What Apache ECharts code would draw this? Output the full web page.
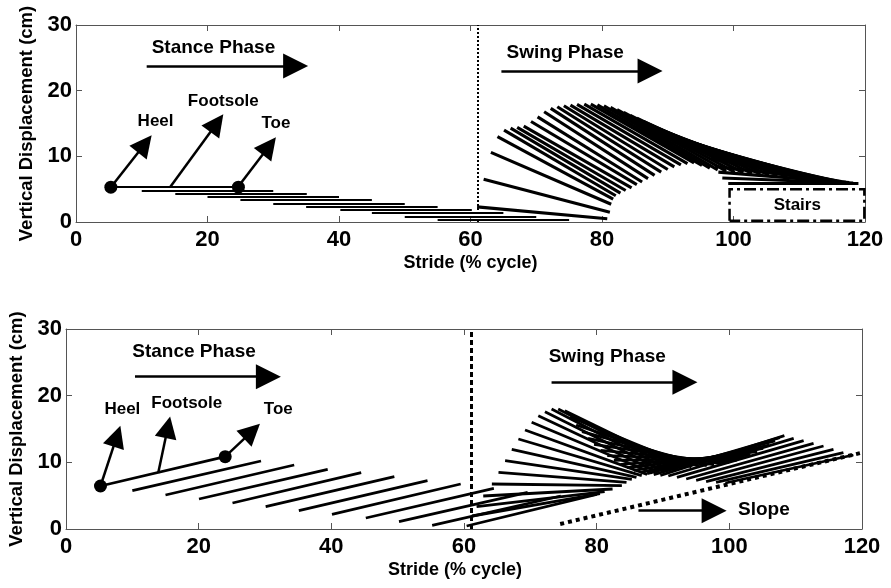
<!DOCTYPE html>
<html>
<head>
<meta charset="utf-8">
<script src="https://cdn.jsdelivr.net/npm/echarts@6/dist/echarts.min.js"></script>
<style>
html, body { margin: 0; padding: 0; background: #fff; }
#chart { width: 891px; height: 588px; }
</style>
</head>
<body>
<div id="chart"></div>
<script>
// ---- stairs (top panel) ----
const stairStanceHeelX = [5.3, 10, 15.1, 20, 25, 30, 35, 40.2, 45, 50, 55]
const stairStanceHeelY = [5.3, 4.8, 4.35, 3.85, 3.35, 2.85, 2.35, 1.85, 1.35, 0.8, 0.3]
const stairStanceToeX = [24.7, 30, 35.1, 40, 45, 50, 55, 60.2, 65, 70, 75]
const stairStanceToeY = [5.3, 4.8, 4.35, 3.85, 3.35, 2.85, 2.35, 1.85, 1.35, 0.8, 0.3]

const stairSwingHeelX = [61.0, 62.0, 63.1, 64.1, 65.1, 66.1, 67.1, 68.1, 69.2, 70.2, 71.2, 72.2, 73.2, 74.2, 75.2, 76.2, 77.3, 78.3, 79.3, 80.3, 81.3, 82.3, 83.3, 84.3, 85.3, 86.3, 87.3, 88.3, 89.3, 90.3, 91.3, 92.3, 93.3, 94.3, 95.2, 96.0, 96.6, 97.2, 97.7, 98.3, 99.2]
const stairSwingHeelY = [2.3, 6.5, 10.6, 13.0, 14.0, 14.3, 14.4, 14.6, 15.3, 16.0, 16.8, 17.3, 17.55, 17.7, 17.8, 17.9, 17.95, 17.95, 17.85, 17.7, 17.45, 17.1, 16.7, 16.25, 15.8, 15.3, 14.8, 14.3, 13.8, 13.3, 12.9, 12.5, 12.1, 11.7, 11.2, 10.6, 9.6, 8.5, 7.6, 6.7, 5.9]
const stairSwingToeX = [80.8, 81.2, 81.4, 81.7, 82.1, 82.8, 83.6, 84.5, 85.3, 86.1, 87.0, 88.0, 89.0, 90.0, 91.0, 92.0, 93.0, 94.0, 95.2, 96.4, 97.6, 98.9, 100.2, 101.5, 102.8, 104.1, 105.4, 106.7, 107.9, 109.1, 110.3, 111.5, 112.7, 113.8, 114.8, 115.7, 116.4, 117.1, 117.6, 118.2, 119.0]
const stairSwingToeY = [0.5, 1.5, 2.7, 3.5, 4.0, 4.4, 4.8, 5.2, 5.7, 6.1, 6.6, 7.1, 7.6, 8.0, 8.4, 8.7, 8.9, 9.0, 8.6, 8.2, 7.95, 7.75, 7.6, 7.5, 7.4, 7.3, 7.2, 7.15, 7.05, 6.95, 6.85, 6.7, 6.6, 6.45, 6.35, 6.25, 6.15, 6.05, 6.0, 5.95, 5.9]

// ---- slope (bottom panel) ----
const slopeStanceHeelX = [5.2, 10.0, 15.0, 20.05, 25.1, 30.1, 35.1, 40.1, 45.2, 50.2, 55.2]
const slopeStanceHeelY = [6.45, 5.75, 5.1, 4.5, 3.9, 3.35, 2.75, 2.2, 1.65, 1.1, 0.55]
const slopeStanceToeX = [24.0, 29.4, 34.4, 39.45, 44.5, 49.5, 54.5, 59.5, 64.5, 69.6, 74.6]
const slopeStanceToeY = [10.85, 10.2, 9.6, 8.95, 8.45, 7.85, 7.25, 6.75, 6.1, 5.5, 4.95]

const slopeSwingHeelX = [60.4, 61.2, 61.9, 62.9, 64.2, 65.2, 66.2, 67.2, 68.2, 69.2, 70.2, 71.2, 72.2, 73.2, 74.2, 75.2, 76.0, 76.9, 77.8, 78.7, 79.6, 80.6, 81.6, 82.6, 83.6, 84.6, 85.6, 86.6, 87.6, 88.6, 89.6, 90.8, 92.1, 93.5, 95.0, 96.5, 98.0, 99.4]
const slopeSwingHeelY = [0.45, 1.95, 3.35, 4.95, 6.75, 8.5, 10.25, 11.95, 13.5, 14.85, 16.0, 17.0, 17.6, 18.0, 18.0, 17.75, 16.8, 15.6, 14.6, 13.6, 12.7, 11.8, 11.0, 10.3, 9.7, 9.2, 8.8, 8.5, 8.3, 8.15, 8.05, 7.95, 7.75, 7.5, 7.3, 7.1, 7.0, 6.9]
const slopeSwingToeX = [80.0, 80.5, 81.2, 82.4, 83.8, 84.5, 85.3, 86.0, 86.8, 87.6, 88.4, 89.2, 90.1, 91.0, 92.0, 93.0, 94.3, 95.5, 96.6, 97.7, 98.8, 100.0, 101.1, 102.2, 103.2, 104.2, 105.1, 106.0, 106.9, 107.6, 108.3, 109.7, 111.2, 112.7, 114.2, 115.7, 117.2, 118.7]
const slopeSwingToeY = [5.2, 5.3, 5.6, 6.0, 6.5, 7.0, 7.45, 7.75, 8.0, 8.2, 8.4, 8.55, 8.7, 8.8, 8.85, 9.1, 9.3, 9.4, 9.5, 9.6, 9.8, 10.0, 10.3, 10.7, 11.1, 11.6, 12.1, 12.6, 13.2, 13.7, 14.0, 13.6, 13.25, 12.85, 12.45, 11.95, 11.45, 11.1]

const stairBoxX = [99.4, 99.4, 119.9, 119.9, 99.4]
const stairBoxY = [0.2, 5.0, 5.0, 0.2, 0.2]
const slopeLineX = [74.5, 120]
const slopeLineY = [0.75, 11.45]
const toeOffX = 61.1

// annotation arrows: start x, start y, tip x, tip y, head size
const stairArrows = [
  [10.75, 23.75, 35.3, 23.75, 25],
  [64.7, 23.0, 89.2, 23.0, 25],
  [5.3, 5.3, 11.5, 13.2, 22],
  [14.3, 5.3, 22.4, 16.4, 22],
  [24.6, 5.3, 30.4, 12.9, 22]
]
const slopeArrows = [
  [10.4, 22.85, 32.4, 22.85, 25],
  [73.2, 22.0, 95.2, 22.0, 25],
  [86.3, 2.75, 99.6, 2.75, 25],
  [5.2, 6.45, 8.2, 15.5, 22],
  [13.9, 8.4, 15.7, 16.9, 22],
  [24.0, 10.85, 29.25, 15.8, 22]
]
const stairLabels = [
  ['Stance Phase', 20.9, 26.6, 19],
  ['Swing Phase', 74.4, 25.8, 19],
  ['Heel', 12.1, 15.3, 17],
  ['Footsole', 22.4, 18.4, 17],
  ['Toe', 30.4, 15.0, 17],
  ['Stairs', 109.7, 2.6, 17]
]
const slopeLabels = [
  ['Stance Phase', 19.3, 26.6, 19],
  ['Swing Phase', 81.6, 25.8, 19],
  ['Heel', 8.5, 18.0, 17],
  ['Footsole', 18.2, 18.9, 17],
  ['Toe', 32.0, 18.0, 17],
  ['Slope', 105.2, 2.85, 19]
]

const FONT = '"Liberation Sans", Arial, Helvetica, sans-serif'
const PX_PER_UNIT = 6.6
const chart = echarts.init(document.getElementById('chart'))

const segs = (hx, hy, tx, ty) => hx.map((x, i) => ({ coords: [[x, hy[i]], [tx[i], ty[i]]] }))

const lineSeries = (grid, data, style) => ({
  type: 'lines',
  coordinateSystem: 'cartesian2d',
  xAxisIndex: grid * 2,
  yAxisIndex: grid * 2,
  silent: true,
  lineStyle: Object.assign({ color: '#000', width: 2.8, opacity: 1, curveness: 0 }, style),
  data: data
})

const arrowSeries = (grid, arrows) => ({
  type: 'lines',
  coordinateSystem: 'cartesian2d',
  xAxisIndex: grid * 2,
  yAxisIndex: grid * 2,
  silent: true,
  z: 4,
  symbol: ['none', 'triangle'],
  lineStyle: { color: '#000', width: 2.5, opacity: 1 },
  itemStyle: { color: '#000' },
  data: arrows.map(a => {
    const dx = a[2] - a[0]
    const dy = a[3] - a[1]
    const len = Math.hypot(dx, dy)
    // head is centred on the end point, pull it back so its tip lands on the tip
    const back = (a[4] / 2) / PX_PER_UNIT
    return {
      coords: [[a[0], a[1]], [a[2] - dx / len * back, a[3] - dy / len * back]],
      symbolSize: [0, a[4]]
    }
  })
})

const labelSeries = (grid, labels) => ({
  type: 'scatter',
  xAxisIndex: grid * 2,
  yAxisIndex: grid * 2,
  silent: true,
  symbolSize: 1,
  itemStyle: { color: 'rgba(0,0,0,0)', opacity: 1 },
  z: 6,
  data: labels.map(l => ({
    name: l[0],
    value: [l[1], l[2]],
    label: { fontSize: l[3] }
  })),
  label: {
    show: true,
    position: 'inside',
    formatter: '{b}',
    color: '#000',
    opacity: 1,
    fontWeight: 'bold',
    fontFamily: FONT
  }
})

const markerSeries = (grid, pts) => ({
  type: 'scatter',
  xAxisIndex: grid * 2,
  yAxisIndex: grid * 2,
  silent: true,
  symbolSize: 13,
  z: 5,
  itemStyle: { color: '#000', opacity: 1 },
  data: pts
})

const frame = { show: true, onZero: false, lineStyle: { color: '#555', width: 1 } }
const tickIn = { show: true, inside: true, length: 6, lineStyle: { color: '#555', width: 1 } }
const tickStyle = { fontSize: 22, fontWeight: 'bold', color: '#000', fontFamily: FONT }
const nameStyle = { fontSize: 18.5, fontWeight: 'bold', color: '#000', fontFamily: FONT }

const xAxes = []
const yAxes = []
for (let g = 0; g < 2; g++) {
  xAxes.push({
    type: 'value', gridIndex: g, min: 0, max: 120, interval: 20, position: 'bottom',
    axisLine: frame, axisTick: tickIn, splitLine: { show: false },
    axisLabel: Object.assign({ margin: 7 }, tickStyle),
    name: 'Stride (% cycle)', nameLocation: 'middle', nameGap: 32,
    nameTextStyle: Object.assign({}, nameStyle, { fontSize: 18, padding: g === 0 ? 0 : [0, 18, 0, 0] })
  })
  xAxes.push({
    type: 'value', gridIndex: g, min: 0, max: 120, interval: 20, position: 'top',
    axisLine: frame, axisTick: tickIn, axisLabel: { show: false }, splitLine: { show: false }
  })
  yAxes.push({
    type: 'value', gridIndex: g, min: 0, max: 30, interval: 10, position: 'left',
    axisLine: frame, axisTick: tickIn, splitLine: { show: false },
    axisLabel: Object.assign({ margin: 4 }, tickStyle),
    name: 'Vertical Displacement (cm)', nameLocation: 'middle', nameRotate: 90,
    nameGap: g === 0 ? 37 : 36, nameTextStyle: nameStyle
  })
  yAxes.push({
    type: 'value', gridIndex: g, min: 0, max: 30, interval: 10, position: 'right',
    axisLine: frame, axisTick: tickIn, axisLabel: { show: false }, splitLine: { show: false }
  })
}

const option = {
  backgroundColor: '#fff',
  animation: false,
  grid: [
    { left: 76, top: 25, width: 789, height: 197, outerBoundsMode: 'none' },
    { left: 66, top: 329, width: 796, height: 200, outerBoundsMode: 'none' }
  ],
  xAxis: xAxes,
  yAxis: yAxes,
  series: [
    // top: stairs
    lineSeries(0, segs(stairStanceHeelX, stairStanceHeelY, stairStanceToeX, stairStanceToeY), { width: 2.2 }),
    lineSeries(0, segs(stairSwingHeelX, stairSwingHeelY, stairSwingToeX, stairSwingToeY), { width: 3.1 }),
    lineSeries(0, [{ coords: [[toeOffX, 0], [toeOffX, 30]] }], { width: 2, type: [2, 2] }),
    Object.assign(lineSeries(0, [{ coords: stairBoxX.map((x, i) => [x, stairBoxY[i]]) }], { width: 2.5, type: [12, 4, 3, 4] }), { polyline: true }),
    arrowSeries(0, stairArrows),
    markerSeries(0, [[stairStanceHeelX[0], stairStanceHeelY[0]], [stairStanceToeX[0], stairStanceToeY[0]]]),
    labelSeries(0, stairLabels),
    // bottom: slope
    lineSeries(1, segs(slopeStanceHeelX, slopeStanceHeelY, slopeStanceToeX, slopeStanceToeY)),
    lineSeries(1, segs(slopeSwingHeelX, slopeSwingHeelY, slopeSwingToeX, slopeSwingToeY)),
    lineSeries(1, [{ coords: [[toeOffX, 0], [toeOffX, 30]] }], { width: 3, type: [5, 3] }),
    lineSeries(1, [{ coords: slopeLineX.map((x, i) => [x, slopeLineY[i]]) }], { width: 4, type: [4, 4] }),
    arrowSeries(1, slopeArrows),
    markerSeries(1, [[slopeStanceHeelX[0], slopeStanceHeelY[0]], [slopeStanceToeX[0], slopeStanceToeY[0]]]),
    labelSeries(1, slopeLabels)
  ]
}

chart.setOption(option)
</script>
</body>
</html>
